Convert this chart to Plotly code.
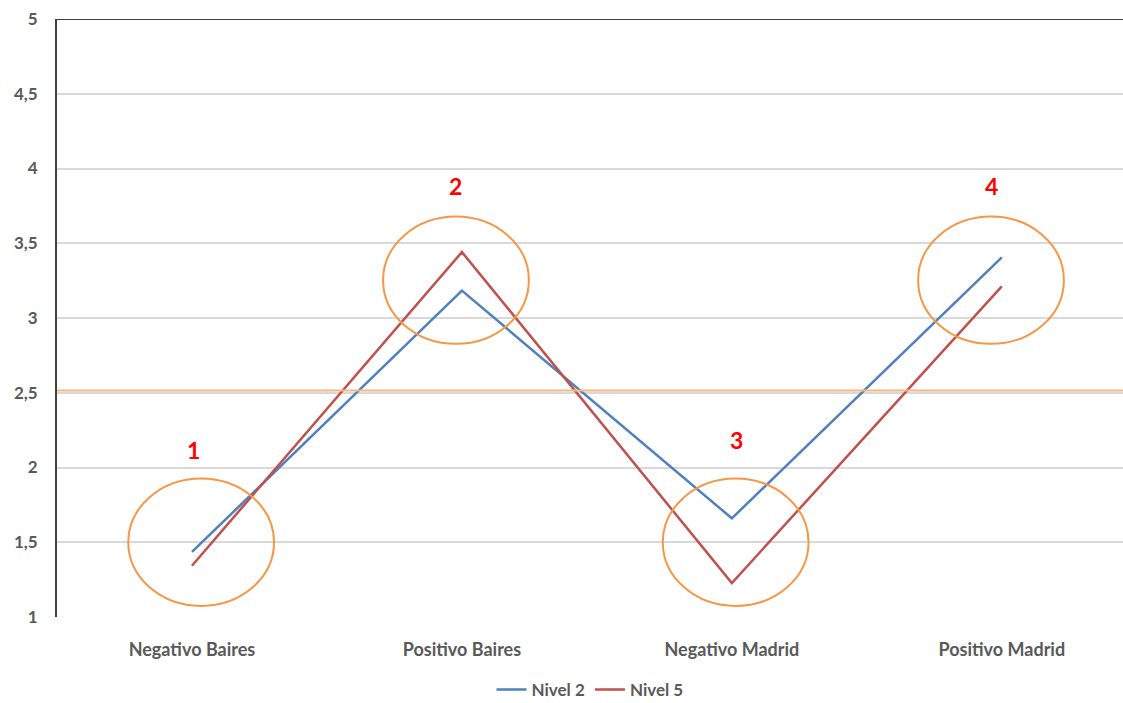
import plotly.graph_objects as go

# Data
categories = ["Negativo Baires", "Positivo Baires", "Negativo Madrid", "Positivo Madrid"]
nivel_2 = [1.435, 3.183, 1.66, 3.405]
nivel_5 = [1.343, 3.441, 1.227, 3.211]
marker_labels = ["1", "2", "3", "4"]
threshold = 2.515

TEXT = "#595959"
FONT = "Lato"

fig = go.Figure()
fig.add_trace(go.Scatter(x=list(range(len(categories))), y=nivel_2, mode="lines",
                         name="Nivel 2", line=dict(color="#4F81BD", width=2.5)))
fig.add_trace(go.Scatter(x=list(range(len(categories))), y=nivel_5, mode="lines",
                         name="Nivel 5", line=dict(color="#C0504D", width=2.5)))

shapes = []
# threshold line
shapes.append(dict(type="line", xref="paper", x0=0, x1=1, yref="y", y0=threshold, y1=threshold,
                   line=dict(color="#F9B680", width=2), layer="above"))
# top frame line
shapes.append(dict(type="line", xref="paper", x0=0, x1=1, yref="y", y0=5, y1=5,
                   line=dict(color="#404040", width=2)))

# highlight ellipses around each point pair
ellipse_dx = [0.034, -0.022, 0.014, -0.04]
ellipse_cy = [1.5, 3.253, 1.5, 3.253]
label_y = [2.12, 3.885, 2.186, 3.885]
label_dx = [0.005, -0.025, 0.017, -0.04]
rx, ry = 0.27, 0.426
annotations = []
for i in range(len(categories)):
    cx = i + ellipse_dx[i]
    shapes.append(dict(type="circle", xref="x", yref="y",
                       x0=cx - rx, x1=cx + rx, y0=ellipse_cy[i] - ry, y1=ellipse_cy[i] + ry,
                       line=dict(color="#F79646", width=2)))
    annotations.append(dict(x=i + label_dx[i], y=label_y[i], xref="x", yref="y",
                            text=marker_labels[i], showarrow=False,
                            font=dict(family=FONT, size=23, color="#FF0000", weight="bold")))

fig.update_layout(
    width=1123, height=703,
    margin=dict(l=57, r=0, t=19, b=86, autoexpand=False),
    paper_bgcolor="white", plot_bgcolor="white",
    separators=",.",
    shapes=shapes, annotations=annotations,
    legend=dict(orientation="h", x=0.5, xanchor="center", y=-0.122, yanchor="middle",
                tracegroupgap=0, itemwidth=30,
                font=dict(family=FONT, size=17, color=TEXT, weight="bold")),
    xaxis=dict(range=[-0.5, 3.449], tickmode="array", tickvals=list(range(len(categories))),
               ticktext=categories, showgrid=False, zeroline=False, showline=False,
               ticks="", ticklabelstandoff=20,
               tickfont=dict(family=FONT, size=18, color=TEXT, weight="bold")),
    yaxis=dict(range=[1, 5], dtick=0.5, tick0=1, showgrid=True, gridcolor="#D9D9D9", gridwidth=1.5,
               zeroline=False, showline=True, linecolor="#404040", linewidth=2,
               ticks="", ticklabelstandoff=14,
               tickfont=dict(family=FONT, size=17, color=TEXT, weight="bold")),
)

fig.write_html("out.html")
